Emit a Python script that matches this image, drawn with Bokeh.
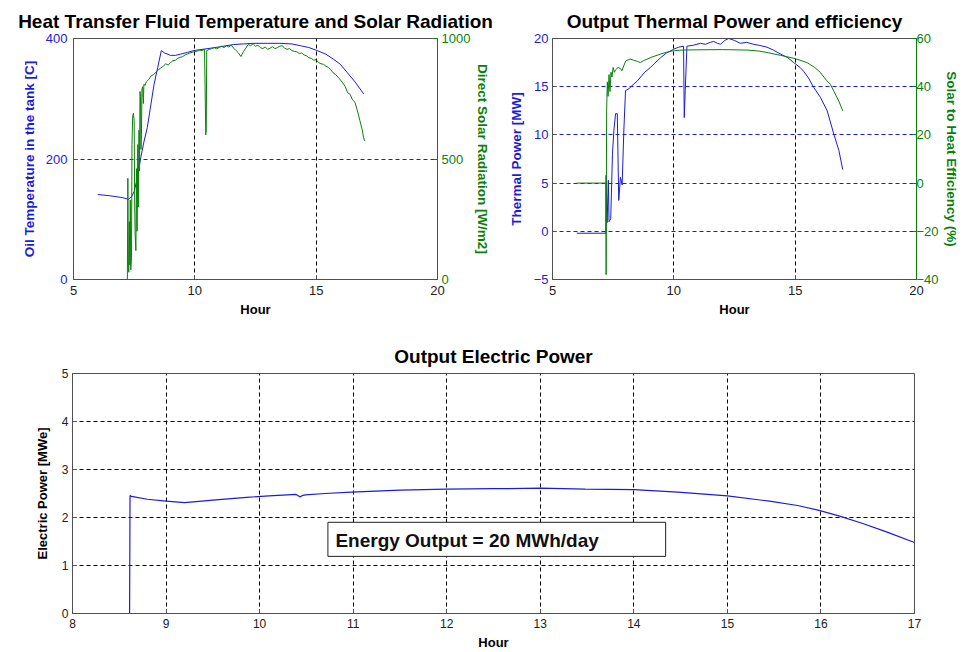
from bokeh.plotting import figure
from bokeh.models import Range1d, LinearAxis, Label, BoxAnnotation
from bokeh.layouts import column, row
from bokeh.embed import file_html
from bokeh.resources import INLINE

# ---------------- data ----------------
# Plot 1: oil temperature in the tank [C]
temp_hour = [6.0, 6.5, 7.0, 7.28, 7.4, 7.5, 7.65, 7.77, 7.9, 8.04, 8.18, 8.32, 8.47, 8.62,
             8.75, 9.0, 9.2, 9.41, 9.7, 9.96, 10.5, 11.0, 11.6, 12.0, 12.43, 13.0, 13.5,
             14.0, 14.35, 14.7, 15.04, 15.4, 15.7, 16.0, 16.27, 16.6, 16.96]
temp_c = [141, 139, 136, 133, 138, 146, 172, 202, 228, 252, 288, 324, 352, 380,
          376, 372, 372, 374, 377, 380, 383, 386, 390, 391, 392, 392, 392,
          391, 388, 385, 380, 374, 366, 357, 344, 328, 308]

# Plot 1: direct solar radiation [W/m2]
rad_hour = [6.0, 7.22, 7.24, 7.26, 7.28, 7.3, 7.32, 7.34, 7.36, 7.39, 7.41, 7.44, 7.47, 7.5,
            7.52, 7.54, 7.57, 7.6, 7.62, 7.65, 7.67, 7.7, 7.72, 7.74, 7.76, 7.78, 7.8, 7.82,
            7.85, 7.88, 7.9, 7.95, 8.0, 8.1, 8.2, 8.3, 8.4, 8.5, 8.6, 8.7, 8.8, 8.9, 9.0,
            9.1, 9.2, 9.3, 9.4, 9.5, 9.6, 9.7, 9.8, 9.9, 10.0, 10.1, 10.2, 10.3, 10.4,
            10.43, 10.45, 10.47, 10.49, 10.6, 10.7, 10.8, 10.9, 11.0, 11.1, 11.2, 11.3,
            11.4, 11.5, 11.6, 11.7, 11.8, 11.9, 12.0, 12.1, 12.2, 12.3, 12.4, 12.5, 12.6,
            12.7, 12.8, 12.9, 13.0, 13.1, 13.2, 13.3, 13.4, 13.5, 13.6, 13.7, 13.8, 13.9,
            14.0, 14.1, 14.2, 14.3, 14.4, 14.5, 14.6, 14.7, 14.8, 14.9, 15.0, 15.1, 15.2,
            15.3, 15.4, 15.5, 15.6, 15.7, 15.8, 15.9, 16.0, 16.1, 16.2, 16.3, 16.4, 16.5,
            16.6, 16.7, 16.8, 16.9, 16.95, 17.0]
rad_wm2 = [0, 0, 420, 50, 30, 240, 60, 330, 40, 90, 560, 680, 690, 660,
           330, 190, 120, 460, 200, 560, 300, 620, 450, 780, 760, 540, 600, 790,
           800, 730, 810, 805, 820, 830, 845, 850, 860, 870, 878, 885, 895, 890, 900,
           908, 910, 918, 922, 925, 932, 936, 940, 943, 946, 948, 952, 950, 955,
           745, 600, 620, 950, 955, 958, 962, 957, 963, 968, 962, 970,
           965, 972, 960, 950, 940, 925, 945, 960, 975, 970, 978, 968, 972,
           962, 958, 965, 955, 960, 966, 958, 962, 968, 970, 960, 955, 958,
           950, 947, 945, 938, 940, 932, 928, 920, 918, 910, 912, 900, 895,
           893, 885, 880, 870, 858, 850, 840, 828, 815, 800, 775, 768, 745,
           735, 700, 660, 620, 590, 575]

# Plot 2: thermal power [MW]
th_hour = [6.0, 7.2, 7.21, 7.25, 7.3, 7.33, 7.4, 7.47, 7.53, 7.6, 7.67, 7.73, 7.8, 7.87,
           7.94, 8.01, 8.15, 8.36, 8.5, 8.63, 8.8, 9.04, 9.2, 9.45, 9.7, 10.0, 10.2, 10.4,
           10.43, 10.47, 10.54, 10.8, 11.1, 11.3, 11.5, 11.64, 11.8, 11.92, 12.1, 12.26,
           12.5, 12.74, 13.0, 13.29, 13.5, 13.84, 14.1, 14.39, 14.7, 14.94, 15.2, 15.35,
           15.55, 15.77, 16.04, 16.32, 16.59, 16.8, 16.96]
th_mw = [-0.2, -0.2, 5.8, 0.9, 5.3, 1.0, 1.3, 8.0, 10.5, 12.2, 12.2, 3.2, 5.6, 4.8,
         10.5, 14.6, 14.8, 15.3, 15.6, 16.0, 16.5, 17.0, 17.4, 18.0, 18.5, 18.9, 19.1, 19.2,
         11.8, 14.6, 19.2, 19.3, 19.5, 19.4, 19.6, 19.7, 19.5, 19.4, 19.8, 20.0,
         19.8, 19.5, 19.6, 19.4, 19.3, 19.1, 18.8, 18.4, 18.0, 17.5, 17.0, 16.6,
         15.9, 14.9, 13.9, 12.5, 10.1, 8.4, 6.4]

# Plot 2: solar to heat efficiency (%)
eff_hour = [6.0, 7.2, 7.21, 7.23, 7.26, 7.29, 7.33, 7.37, 7.41, 7.45, 7.5, 7.55, 7.6, 7.7,
            7.8, 7.86, 7.95, 8.02, 8.2, 8.34, 8.5, 8.62, 8.75, 8.89, 9.1, 9.44, 9.7, 9.99,
            10.3, 10.95, 12.0, 13.02, 13.5, 13.84, 14.4, 14.94, 15.2, 15.49, 15.8, 16.04,
            16.3, 16.45, 16.6, 16.8, 16.96]
eff_pct = [0, 0, -38, 30, 42, 36, 45, 38, 46, 44, 48, 46, 47, 48,
           47.5, 46.6, 49, 50.7, 51.5, 51, 50.5, 50, 50.8, 51.4, 52.3, 53.5, 54.3, 54.9,
           55.2, 55.3, 55.4, 55.2, 54.8, 54.2, 53.0, 51.8, 51.0, 50.0, 48.0, 45.9,
           42.5, 41.0, 38.0, 34.0, 30.0]

# Plot 3: electric power [MWe]
el_hour = [8.0, 8.61, 8.615, 8.63, 8.8, 9.0, 9.2, 9.5, 9.86, 10.1, 10.39, 10.43, 10.46,
           10.49, 10.7, 10.98, 11.5, 12.0, 12.5, 13.0, 13.48, 14.0, 14.47, 15.0, 15.45,
           15.75, 15.98, 16.2, 16.44, 16.7, 17.0]
el_mwe = [0, 0, 2.46, 2.44, 2.38, 2.34, 2.31, 2.36, 2.42, 2.45, 2.48, 2.43, 2.46,
          2.47, 2.5, 2.53, 2.57, 2.59, 2.6, 2.61, 2.59, 2.58, 2.53, 2.45, 2.34,
          2.25, 2.15, 2.03, 1.88, 1.7, 1.48]

# tick labels
p1_xticks = [5, 10, 15, 20]
p1_lticks = [0, 200, 400]
p1_rticks = [0, 500, 1000]
p2_lticks = [-5, 0, 5, 10, 15, 20]
p2_rticks = [-40, -20, 0, 20, 40, 60]
p3_xticks = [8, 9, 10, 11, 12, 13, 14, 15, 16, 17]
p3_yticks = [0, 1, 2, 3, 4, 5]

energy_text = "Energy Output = 20 MWh/day"

# ---------------- style ----------------
BLUE = "#1c1cd8"
GREEN = "#0b7f0b"
FRAME = "#505050"
FONT = "Liberation Sans"


def base_style(p, tick_size="13px"):
    p.title.text_font = FONT
    p.title.text_font_size = "19px"
    p.title.text_font_style = "bold"
    p.title.align = "center"
    p.title.text_color = "black"
    p.title.standoff = 13
    p.outline_line_color = FRAME
    p.outline_line_width = 1
    p.background_fill_color = "white"
    p.border_fill_color = "white"
    for ax in p.axis:
        ax.major_label_text_font = FONT
        ax.major_label_text_font_size = tick_size
        ax.axis_label_text_font = FONT
        ax.axis_label_text_font_style = "bold"
        ax.major_tick_in = 4
        ax.major_tick_out = 0
        ax.minor_tick_line_color = None
        ax.axis_line_color = FRAME
        ax.major_tick_line_color = FRAME


def set_x(p):
    ax = p.below[0]
    ax.axis_label = "Hour"
    ax.axis_label_text_font_size = "13px"
    ax.axis_label_standoff = 4
    ax.major_label_standoff = 6
    ax.major_label_text_color = "#202020"
    ax.axis_label_text_color = "black"


# ---------------- plot 1 ----------------
p1 = figure(width=500, height=330, x_range=Range1d(5, 20), y_range=Range1d(0, 400),
            output_backend="svg", toolbar_location=None,
            min_border_left=73, min_border_right=63, min_border_top=38, min_border_bottom=51,
            title="Heat Transfer Fluid Temperature and Solar Radiation")
p1.extra_y_ranges = {"rad": Range1d(0, 1000)}
p1.line(temp_hour, temp_c, line_color=BLUE, line_width=1)
p1.line(rad_hour, rad_wm2, line_color=GREEN, line_width=1, y_range_name="rad")
r1 = LinearAxis(y_range_name="rad")
p1.add_layout(r1, "right")
base_style(p1)
set_x(p1)
p1.below[0].ticker = p1_xticks
l1 = p1.left[0]
l1.ticker = p1_lticks
l1.axis_label = "Oil Temperature in the tank [C]"
l1.axis_label_text_font_size = "13.5px"
l1.axis_label_text_color = BLUE
l1.major_label_text_color = BLUE
l1.major_label_standoff = 6
l1.axis_label_standoff = 6
r1.ticker = p1_rticks
r1.axis_label = "Direct Solar Radiation [W/m2]"
r1.axis_label_text_font_size = "13.5px"
r1.axis_label_text_color = GREEN
r1.major_label_text_color = GREEN
r1.axis_line_color = GREEN
r1.major_tick_line_color = GREEN
r1.major_label_standoff = 4
r1.axis_label_standoff = 2
p1.xgrid.ticker = [10, 15]
p1.xgrid.grid_line_color = "black"
p1.xgrid.grid_line_dash = "4 3"
p1.ygrid.ticker = [200]
p1.ygrid.grid_line_color = BLUE
p1.ygrid.grid_line_dash = "4 3"

# ---------------- plot 2 ----------------
p2 = figure(width=466, height=330, x_range=Range1d(5, 20), y_range=Range1d(-5, 20),
            output_backend="svg", toolbar_location=None,
            min_border_left=52, min_border_right=50, min_border_top=38, min_border_bottom=51,
            title="Output Thermal Power and efficiency")
p2.extra_y_ranges = {"eff": Range1d(-40, 60)}
p2.line(th_hour, th_mw, line_color=BLUE, line_width=1)
p2.line(eff_hour, eff_pct, line_color=GREEN, line_width=1, y_range_name="eff")
r2 = LinearAxis(y_range_name="eff")
p2.add_layout(r2, "right")
base_style(p2)
set_x(p2)
p2.below[0].ticker = p1_xticks
l2 = p2.left[0]
l2.ticker = p2_lticks
l2.axis_label = "Thermal Power [MW]"
l2.axis_label_text_font_size = "13.5px"
l2.axis_label_text_color = BLUE
l2.major_label_text_color = BLUE
l2.major_label_standoff = 4
l2.axis_label_standoff = 7
r2.ticker = p2_rticks
r2.axis_label = "Solar to Heat Efficiency (%)"
r2.axis_label_text_font_size = "13.5px"
r2.axis_label_text_color = GREEN
r2.major_label_text_color = GREEN
r2.axis_line_color = GREEN
r2.major_tick_line_color = GREEN
r2.major_label_standoff = 0
r2.axis_label_standoff = 2
p2.xgrid.ticker = [10, 15]
p2.xgrid.grid_line_color = "black"
p2.xgrid.grid_line_dash = "4 3"
p2.ygrid.ticker = [0, 5, 10, 15]
p2.ygrid.grid_line_color = BLUE
p2.ygrid.grid_line_dash = "4 3"

# ---------------- plot 3 ----------------
p3 = figure(width=966, height=322, x_range=Range1d(8, 17), y_range=Range1d(0, 5),
            output_backend="svg", toolbar_location=None,
            min_border_left=72, min_border_right=52, min_border_top=43, min_border_bottom=39,
            title="Output Electric Power")
p3.line(el_hour, el_mwe, line_color=BLUE, line_width=1.2)
base_style(p3, tick_size="12px")
set_x(p3)
p3.below[0].ticker = p3_xticks
p3.below[0].major_label_standoff = 5
p3.below[0].axis_label_standoff = 4
l3 = p3.left[0]
l3.ticker = p3_yticks
l3.axis_label = "Electric Power [MWe]"
l3.axis_label_text_font_size = "13px"
l3.axis_label_text_color = "black"
l3.major_label_text_color = "#202020"
l3.major_label_standoff = 4
l3.axis_label_standoff = 9
p3.xgrid.ticker = [9, 10, 11, 12, 13, 14, 15, 16]
p3.ygrid.ticker = [1, 2, 3, 4]
for g in (p3.xgrid, p3.ygrid):
    g.grid_line_color = "black"
    g.grid_line_dash = "4 3"

box = BoxAnnotation(left=10.73, right=14.34, bottom=1.19, top=1.9,
                    fill_color="white", fill_alpha=1.0,
                    line_color="#202020", line_alpha=1.0, line_width=1)
p3.add_layout(box)
p3.add_layout(Label(x=10.81, y=1.53, text=energy_text, text_font=FONT,
                    text_font_size="19px", text_font_style="bold",
                    text_baseline="middle", text_align="left", text_color="#101010"))

layout = column(row(p1, p2), p3)
open("out.html", "w").write(file_html(layout, INLINE))
